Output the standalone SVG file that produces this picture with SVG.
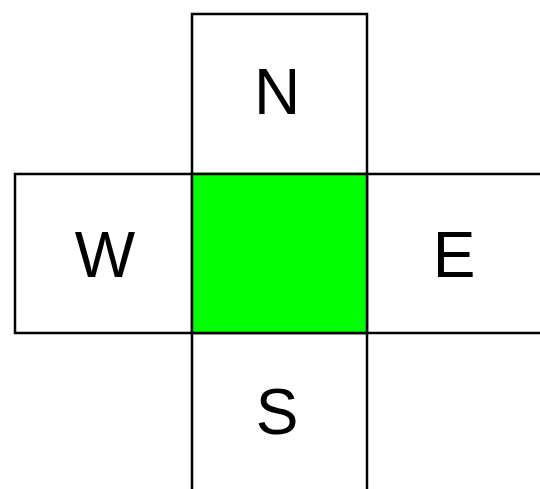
<svg xmlns="http://www.w3.org/2000/svg" width="540" height="489" viewBox="0 0 540 489">
<style>
.cell{fill:#ffffff;stroke:#000000;stroke-width:2.5}
.center{fill:#00ff00;stroke:#000000;stroke-width:2.5}
.lbl{font-family:"Liberation Sans",Arial,sans-serif;font-size:64px;fill:#000000;text-anchor:middle}
</style>
<rect width="540" height="489" fill="#ffffff"/>
<g id="N"><rect class="cell" x="192" y="14" width="175" height="160"/><text class="lbl" x="277" y="114">N</text></g>
<g id="W"><rect class="cell" x="15" y="174" width="177" height="159"/><text class="lbl" x="105" y="277">W</text></g>
<g id="E"><rect class="cell" x="367" y="174" width="180" height="159"/><text class="lbl" x="454" y="277">E</text></g>
<g id="S"><rect class="cell" x="192" y="333" width="175" height="170"/><text class="lbl" x="277" y="434">S</text></g>
<g id="C"><rect class="center" x="192" y="174" width="175" height="159"/></g>
<g id="connectors"></g>
</svg>
